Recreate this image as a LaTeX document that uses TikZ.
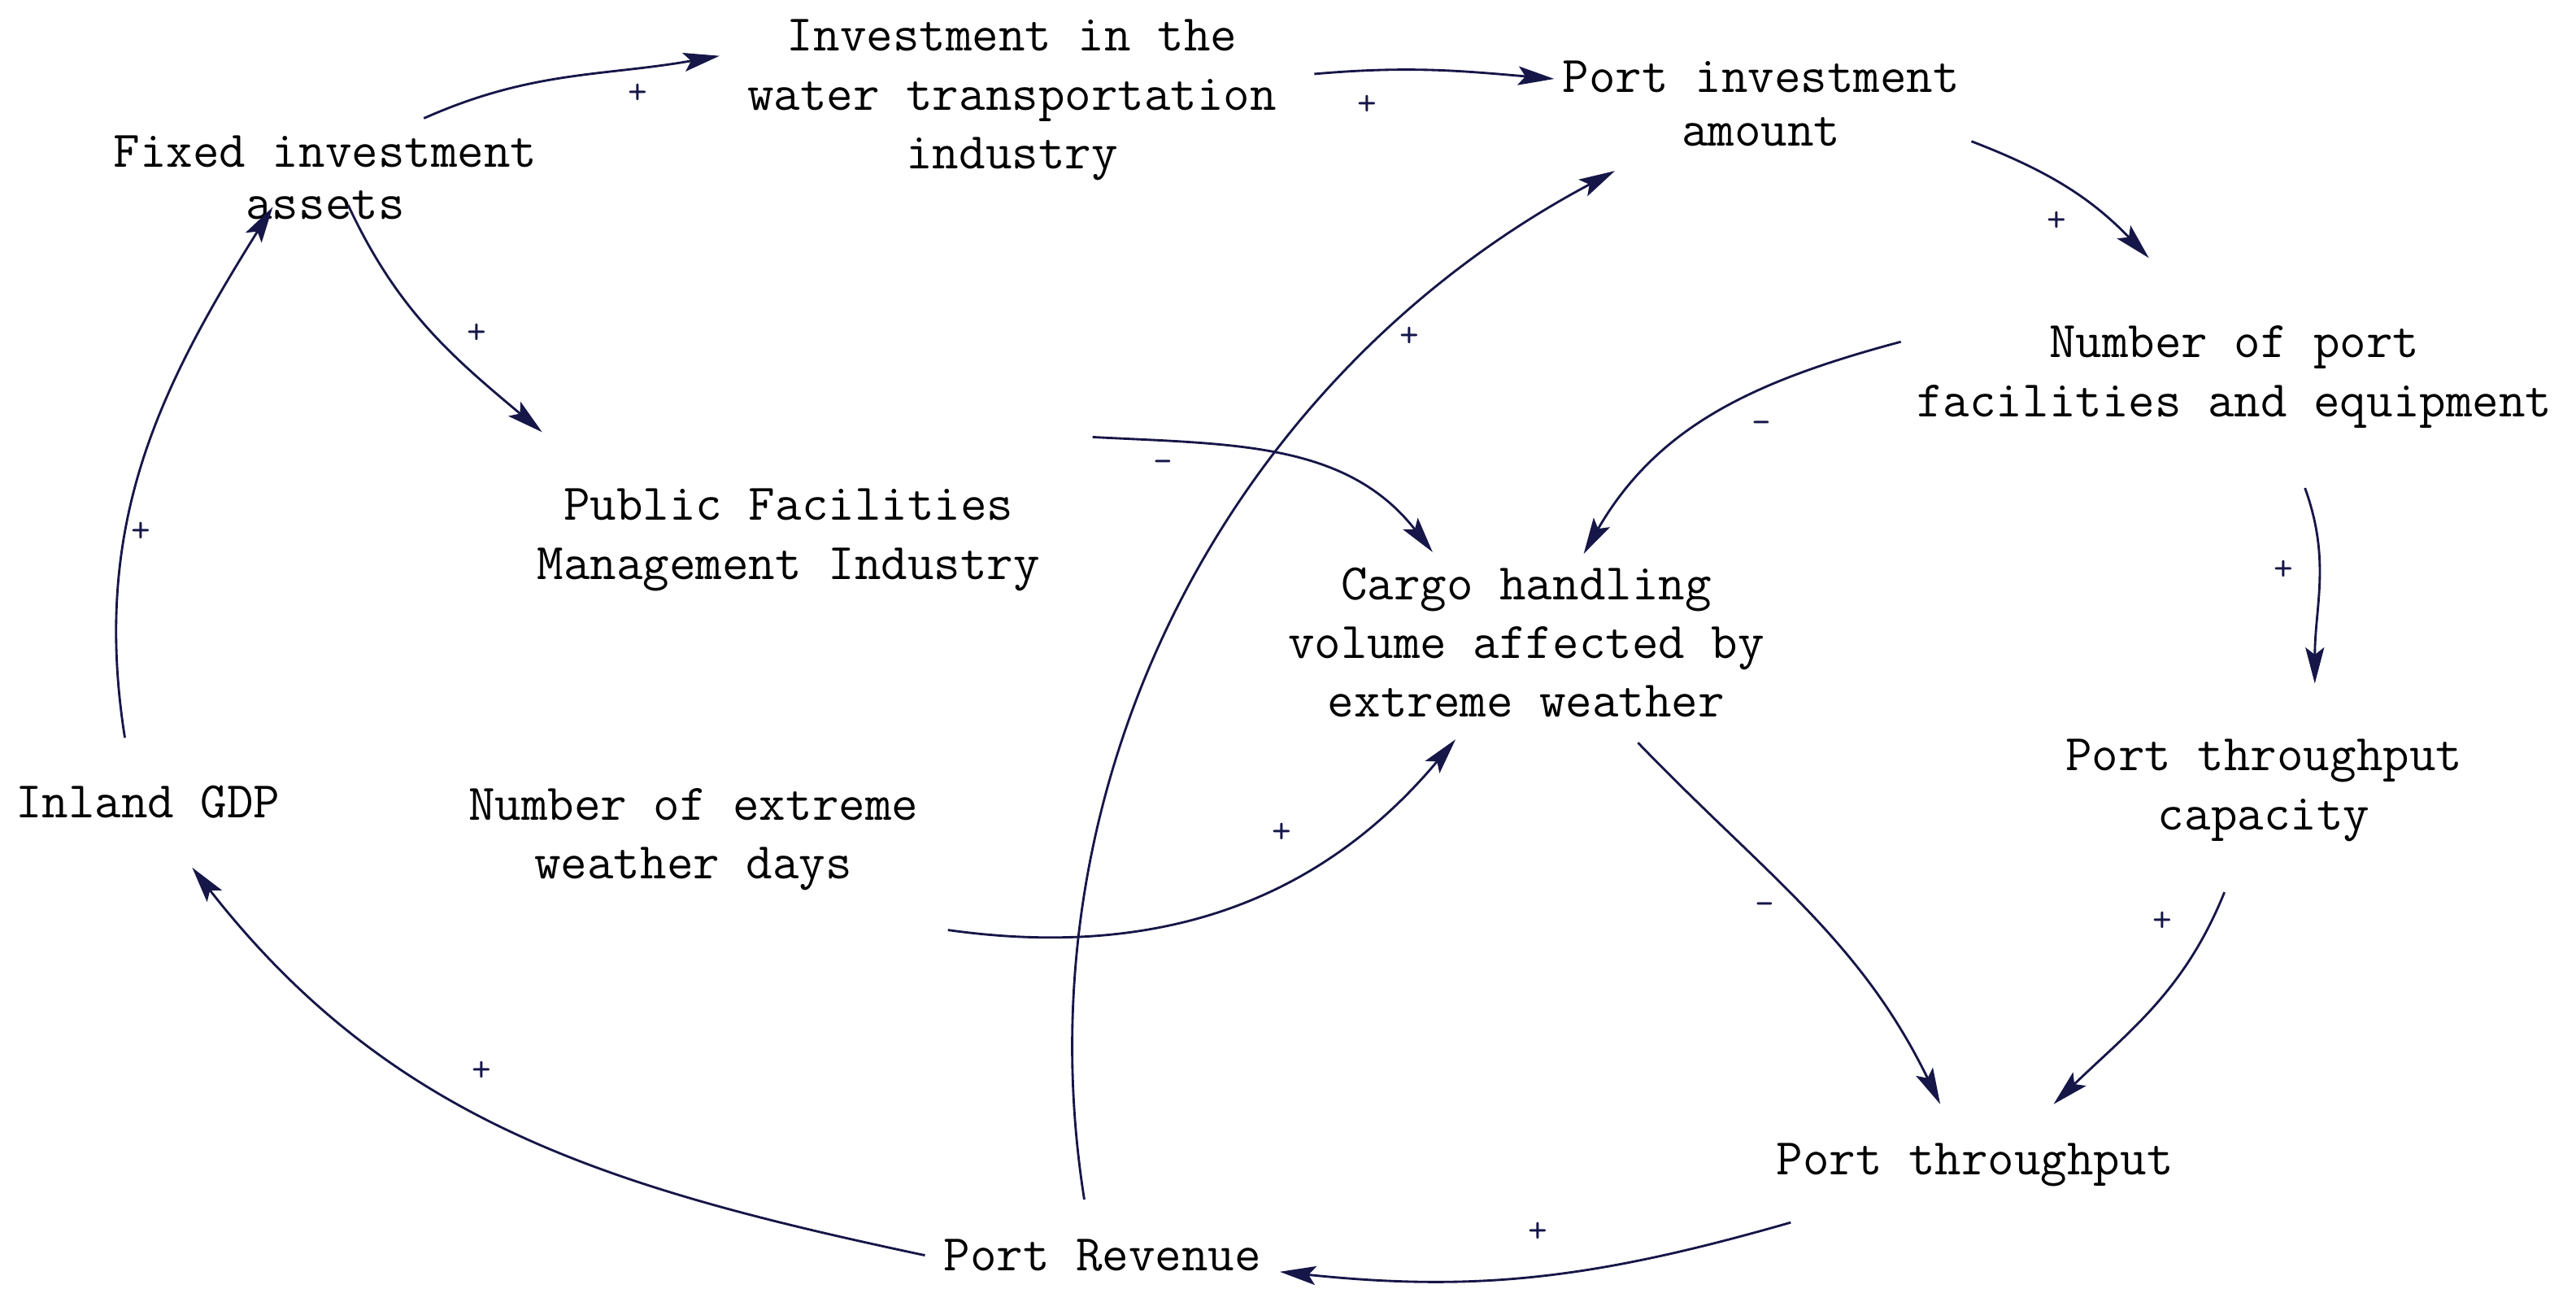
\documentclass[tikz,border=0pt]{standalone}
\usepackage{fontspec}
\usetikzlibrary{arrows.meta}
\definecolor{arrowblue}{RGB}{22,22,72}
\begin{document}
\begin{tikzpicture}[x=0.02cm,y=0.02cm,
  lbl/.style={font=\ttfamily\fontsize{17.8pt}{20.4pt}\selectfont, align=center, inner sep=0pt, text=black},
  sgn/.style={font=\ttfamily\fontsize{13pt}{13pt}\selectfont, inner sep=0pt, text=arrowblue},
  link/.style={draw=arrowblue, line width=0.8pt, -{Stealth[length=12.5pt,width=6.5pt,inset=2.5pt]}}]
\useasboundingbox (0,0) rectangle (1568,-792);

% variables
\node[lbl] (fixed)   at (198,-108)  {Fixed investment\\[-2.5pt]assets};
\node[lbl] (water)   at (616,-61)   {Investment in the\\water transportation\\industry};
\node[lbl] (portinv) at (1072,-63)  {Port investment\\[-1.7pt]amount};
\node[lbl] (facil)   at (1360,-229.5) {Number of port\\facilities and equipment};
\node[lbl] (public)  at (480,-328.5)  {Public Facilities\\Management Industry};
\node[lbl] (cargo)   at (929,-391)  {Cargo handling\\volume affected by\\extreme weather};
\node[lbl] (cap)     at (1378,-481) {Port throughput\\capacity};
\node[lbl] (gdp)     at (90,-488)   {Inland GDP};
\node[lbl] (days)    at (422,-511)  {Number of extreme\\weather days};
\node[lbl] (thru)    at (1202,-709) {Port throughput};
\node[lbl] (rev)     at (671,-764)  {Port Revenue};

% connector end points
\coordinate (a0) at (258,-72);   \coordinate (a1) at (438,-34);
\coordinate (b0) at (800,-45);   \coordinate (b1) at (946,-48);
\coordinate (c0) at (1200,-86);  \coordinate (c1) at (1308,-157);
\coordinate (d0) at (1157,-208); \coordinate (d1) at (964,-337);
\coordinate (e0) at (1403,-297); \coordinate (e1) at (1409,-416);
\coordinate (f0) at (1354,-543); \coordinate (f1) at (1250,-672);
\coordinate (g0) at (997,-452);  \coordinate (g1) at (1181,-672);
\coordinate (h0) at (1090,-744); \coordinate (h1) at (779,-774);
\coordinate (i0) at (563,-764);  \coordinate (i1) at (117,-528);
\coordinate (j0) at (76,-449);   \coordinate (j1) at (166,-126);
\coordinate (k0) at (212,-125);  \coordinate (k1) at (330,-263);
\coordinate (l0) at (665,-266);  \coordinate (l1) at (872,-336);
\coordinate (m0) at (577,-566);  \coordinate (m1) at (886,-450);
\coordinate (n0) at (660,-730);  \coordinate (n1) at (983,-104);

% connectors
\draw[link] (a0) to[out=24,in=190] (a1);
\draw[link] (b0) to[out=5,in=175] (b1);
\draw[link] (c0) to[out=-21,in=134] (c1);
\draw[link] (d0) to[out=195,in=60] (d1);
\draw[link] (e0) to[out=-70,in=90] (e1);
\draw[link] (f0) to[out=248,in=44] (f1);
\draw[link] (g0) to[out=-46,in=116] (g1);
\draw[link] (h0) to[out=196,in=354] (h1);
\draw[link] (i0) to[out=168,in=308] (i1);
\draw[link] (j0) to[out=99,in=238] (j1);
\draw[link] (k0) to[out=-65,in=140] (k1);
\draw[link] (l0) to[out=-3,in=128] (l1);
\draw[link] (m0) to[out=-8,in=230] (m1);
\draw[link] (n0) to[out=99,in=208,looseness=0.95] (n1);

% polarity signs
\node[sgn] (sa) at (388,-57)   {+};
\node[sgn] (sb) at (832,-64)   {+};
\node[sgn] (sc) at (1252,-135) {+};
\node[sgn] (sd) at (1072,-260) {-};
\node[sgn] (se) at (1390,-347) {+};
\node[sgn] (sf) at (1316,-561) {+};
\node[sgn] (sg) at (1074,-553) {-};
\node[sgn] (sh) at (936,-750)  {+};
\node[sgn] (si) at (293,-652)  {+};
\node[sgn] (sj) at (86,-324)   {+};
\node[sgn] (sk) at (290,-203)  {+};
\node[sgn] (sl) at (708,-284)  {-};
\node[sgn] (sm) at (780,-507)  {+};
\node[sgn] (sn) at (858,-205)  {+};
\end{tikzpicture}
\end{document}
